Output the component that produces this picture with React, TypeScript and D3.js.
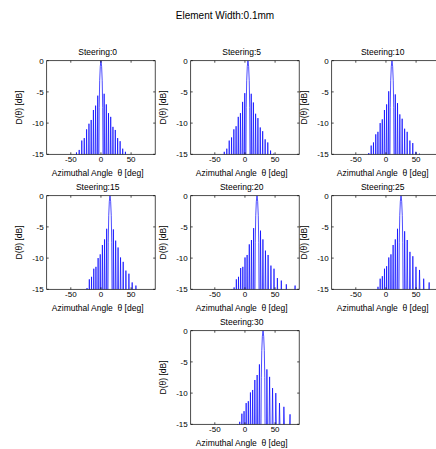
import React, { useEffect, useRef } from "react";
import * as d3 from "d3";

const steerings = [0, 5, 10, 15, 20, 25, 30];

// sidelobe peaks: angle (deg) and level (dB)
const lobeAngles0 = [-50.8, -45.5, -40.6, -36.1, -31.8, -27.7, -23.8, -19.9, -16.2, -12.5, -8.9, -5.3,
  5.3, 8.9, 12.5, 16.2, 19.9, 23.8, 27.7, 31.8, 36.1, 40.6, 45.5, 50.8];
const lobeLevels0 = [-16.8, -15.6, -14.7, -14.3, -12.8, -12.4, -11.0, -10.1, -9.5, -7.9, -7.2, -5.6,
  -5.3, -7.0, -8.4, -9.0, -10.6, -11.1, -12.4, -12.9, -14.1, -14.6, -15.9, -16.5];

const lobeAngles5 = [-43.5, -38.7, -34.3, -30.1, -26.1, -22.2, -18.4, -14.7, -11.1, -7.5, -3.9, -0.3,
  10.4, 14.0, 17.7, 21.5, 25.4, 29.4, 33.5, 37.9, 42.5, 47.6, 53.1, 59.6];
const lobeLevels5 = [-16.4, -15.6, -14.6, -14.1, -12.8, -12.3, -11.0, -10.5, -9.0, -8.4, -6.6, -5.2,
  -5.3, -6.7, -8.5, -9.2, -10.7, -11.3, -12.6, -13.1, -14.4, -14.9, -16.0, -16.9];

const lobeAngles10 = [-37.0, -32.6, -28.5, -24.5, -20.7, -16.9, -13.3, -9.6, -6.1, -2.5, 1.1, 4.6,
  15.5, 19.2, 23.0, 26.9, 31.0, 35.2, 39.7, 44.5, 49.7, 55.6, 62.4, 71.6];
const lobeLevels10 = [-16.3, -15.3, -14.8, -13.6, -13.1, -11.8, -11.4, -10.0, -9.4, -7.9, -7.0, -4.9,
  -5.4, -6.8, -8.6, -9.3, -10.9, -11.4, -12.8, -13.2, -14.6, -14.9, -16.1, -17.1];

const lobeAngles15 = [-31.1, -27.0, -23.1, -19.3, -15.6, -11.9, -8.3, -4.7, -1.2, 2.4, 6.0, 9.5,
  20.6, 24.4, 28.4, 32.5, 36.9, 41.4, 46.4, 51.8, 58.0, 65.5, 76.4];
const lobeLevels15 = [-16.1, -15.1, -14.8, -13.4, -13.0, -11.7, -11.4, -10.0, -9.4, -7.9, -7.0, -5.3,
  -5.4, -7.2, -8.3, -9.9, -10.6, -12.0, -12.5, -13.9, -14.4, -15.3, -16.2];

const lobeAngles20 = [-25.7, -21.8, -18.0, -14.3, -10.7, -7.1, -3.5, 0.1, 3.6, 7.2, 10.8, 14.4,
  25.8, 29.8, 34.0, 38.4, 43.1, 48.2, 53.8, 60.3, 68.6, 83.2];
const lobeLevels20 = [-16.0, -15.0, -14.7, -13.4, -13.0, -11.6, -11.4, -9.9, -9.5, -7.8, -7.1, -5.2,
  -5.6, -7.0, -8.8, -9.5, -11.2, -11.7, -13.2, -13.6, -14.2, -14.4];

const lobeAngles25 = [-20.6, -16.9, -13.2, -9.6, -6.0, -2.4, 1.1, 4.7, 8.3, 11.9, 15.5, 19.2,
  31.0, 35.3, 39.8, 44.6, 49.8, 55.7, 62.6, 71.7];
const lobeLevels25 = [-15.9, -15.1, -14.6, -13.3, -12.9, -11.7, -11.3, -9.9, -9.4, -7.9, -7.0, -5.3,
  -5.7, -7.1, -9.0, -9.7, -11.4, -11.9, -13.3, -13.9];

const lobeAngles30 = [-16.0, -12.3, -8.7, -5.1, -1.5, 2.0, 5.6, 9.1, 12.8, 16.4, 20.2, 24.0,
  36.4, 40.9, 45.8, 51.2, 57.3, 64.6, 74.8];
const lobeLevels30 = [-15.8, -15.0, -14.6, -13.3, -12.9, -11.6, -11.3, -9.9, -9.5, -7.9, -7.1, -5.4,
  -6.2, -7.4, -9.2, -10.0, -11.6, -12.2, -13.4];

const allAngles = [lobeAngles0, lobeAngles5, lobeAngles10, lobeAngles15, lobeAngles20, lobeAngles25, lobeAngles30];
const allLevels = [lobeLevels0, lobeLevels5, lobeLevels10, lobeLevels15, lobeLevels20, lobeLevels25, lobeLevels30];

// main lobe shape around the steering angle
const mainLobeOffsets = [-3.3, -2.9, -2.1, -1.1, 0, 1.1, 2.1, 2.9, 3.3];
const mainLobeLevels = [-14, -7.5, -3.2, -0.9, 0, -0.9, -3.2, -7.5, -14];

const xTicks = [-50, 0, 50];
const yTicks = [0, -5, -10, -15];
const NULL_DB = -28;

const W = 436;
const H = 449;
const colLefts = [46.7, 190.7, 331.7];
const rowTops = [60.7, 195.7, 330.7];
const axW = 108.5;
const axH = 93.6;
const slots = [[0, 0], [0, 1], [0, 2], [1, 0], [1, 1], [1, 2], [2, 1]];
const FONT = "'Liberation Sans', Arial, Helvetica, sans-serif";

function buildPattern(steer: number, angles: number[], levels: number[]) {
  const lobes: number[][][] = angles.map((a, i) => [[a, levels[i]]]);
  lobes.push(mainLobeOffsets.map((o, i) => [steer + o, mainLobeLevels[i]]));
  lobes.sort((a, b) => a[0][0] - b[0][0]);
  const pts: number[][] = [[-90, NULL_DB], [lobes[0][0][0] - 2, NULL_DB]];
  lobes.forEach((lobe, i) => {
    if (i > 0) {
      const prev = lobes[i - 1];
      pts.push([(prev[prev.length - 1][0] + lobe[0][0]) / 2, NULL_DB]);
    }
    lobe.forEach(p => pts.push(p));
  });
  const last = lobes[lobes.length - 1];
  pts.push([last[last.length - 1][0] + 2, NULL_DB]);
  pts.push([90, NULL_DB]);
  return pts;
}

const App = () => {
  const ref = useRef<SVGSVGElement>(null);

  useEffect(() => {
    const svg = d3.select(ref.current);
    svg.selectAll("*").remove();

    svg.append("text")
      .attr("x", 225)
      .attr("y", 18.5)
      .attr("text-anchor", "middle")
      .style("font-family", FONT)
      .style("font-size", "10px")
      .text("Element Width:0.1mm");

    steerings.forEach((steer, i) => {
      const [r, c] = slots[i];
      const left = colLefts[c];
      const top = rowTops[r];
      const x = d3.scaleLinear().domain([-90, 90]).range([left, left + axW]);
      const y = d3.scaleLinear().domain([-15, 0]).range([top + axH, top]);
      const g = svg.append("g");

      g.append("clipPath")
        .attr("id", "clip-" + i)
        .append("rect")
        .attr("x", left)
        .attr("y", top)
        .attr("width", axW)
        .attr("height", axH);

      const line = d3.line<number[]>()
        .x(d => x(d[0]))
        .y(d => y(d[1]));

      g.append("path")
        .attr("clip-path", `url(#clip-${i})`)
        .attr("d", line(buildPattern(steer, allAngles[i], allLevels[i])))
        .attr("fill", "none")
        .attr("stroke", "#0000ff")
        .attr("stroke-width", 0.7);

      g.append("rect")
        .attr("x", left)
        .attr("y", top)
        .attr("width", axW)
        .attr("height", axH)
        .attr("fill", "none")
        .attr("stroke", "#000")
        .attr("stroke-width", 0.7);

      // inward ticks on all four sides
      xTicks.forEach(t => {
        g.append("line").attr("x1", x(t)).attr("x2", x(t))
          .attr("y1", top + axH).attr("y2", top + axH - 2)
          .attr("stroke", "#000").attr("stroke-width", 0.7);
        g.append("line").attr("x1", x(t)).attr("x2", x(t))
          .attr("y1", top).attr("y2", top + 2)
          .attr("stroke", "#000").attr("stroke-width", 0.7);
        g.append("text")
          .attr("x", x(t))
          .attr("y", top + axH + 8)
          .attr("text-anchor", "middle")
          .style("font-family", FONT)
          .style("font-size", "8px")
          .text(t);
      });
      yTicks.forEach(t => {
        g.append("line").attr("x1", left).attr("x2", left + 2)
          .attr("y1", y(t)).attr("y2", y(t))
          .attr("stroke", "#000").attr("stroke-width", 0.7);
        g.append("line").attr("x1", left + axW).attr("x2", left + axW - 2)
          .attr("y1", y(t)).attr("y2", y(t))
          .attr("stroke", "#000").attr("stroke-width", 0.7);
        g.append("text")
          .attr("x", left - 3)
          .attr("y", y(t) + 3)
          .attr("text-anchor", "end")
          .style("font-family", FONT)
          .style("font-size", "8px")
          .text(t);
      });

      g.append("text")
        .attr("x", left + 51)
        .attr("y", top - 6)
        .attr("text-anchor", "middle")
        .style("font-family", FONT)
        .style("font-size", "8.5px")
        .text("Steering:" + steer);

      g.append("text")
        .attr("x", left + 51)
        .attr("y", top + axH + 21.5)
        .attr("text-anchor", "middle")
        .style("font-family", FONT)
        .style("font-size", "8.5px")
        .style("white-space", "pre")
        .text("Azimuthal Angle  θ [deg]");

      g.append("text")
        .attr("transform", `translate(${left - 25},${top + axH / 2}) rotate(-90)`)
        .attr("text-anchor", "middle")
        .style("font-family", FONT)
        .style("font-size", "8.5px")
        .text("D(θ) [dB]");
    });
  }, []);

  return (
    <svg
      ref={ref}
      width={W}
      height={H}
      style={{ position: "absolute", left: 0, top: 0, background: "#fff" }}
    />
  );
};

export default App;
